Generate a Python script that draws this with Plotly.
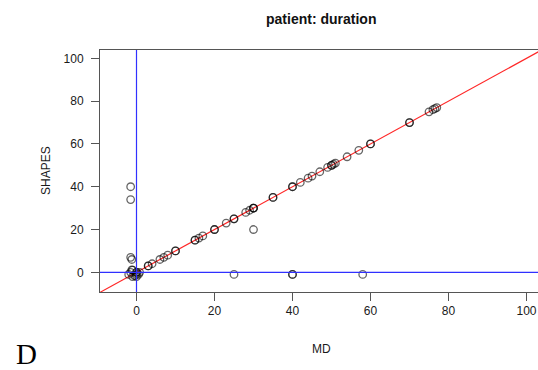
import plotly.graph_objects as go

# Data (MD vs SHAPES, patient duration)
md = [25, 28, 29, 30, 30, 30, 30, 35, 35, 40, 40, 42, 44, 45, 47, 49, 50, 50, 50.5, 51,
      54, 57, 60, 60, 70, 70, 75, 76, 76.5, 77,
      25, 40, 40, 58,
      3, 3, 4, 6, 7, 8, 10, 10, 15, 15, 16, 17, 20, 20, 23, 25,
      -1.5, -1.5, -1.5, -1.2,
      -2, -1.5, -1, -1, 0, 0, 0, 0.5, 0, -0.5, 0.8, -1.2]
shapes = [25, 28, 29, 30, 30, 20, 30, 35, 35, 40, 40, 42, 44, 45, 47, 49, 50, 50, 50.5, 51,
          54, 57, 60, 60, 70, 70, 75, 76, 76.5, 77,
          -1, -1, -1, -1,
          3, 3, 4, 6, 7, 8, 10, 10, 15, 15, 16, 17, 20, 20, 23, 25,
          40, 34, 7, 6,
          -1, 0, -2, 1, 0, 0, -1, -1, -2, -1.5, 0, 1.1]

identity = [-20, 120]
x_ticks = [0, 20, 40, 60, 80, 100]
y_ticks = [0, 20, 40, 60, 80, 100]

fig = go.Figure()
fig.add_trace(go.Scatter(x=identity, y=identity, mode="lines",
                         line=dict(color="rgba(255,0,0,0.85)", width=1.2),
                         hoverinfo="skip", showlegend=False))
fig.add_trace(go.Scatter(x=md, y=shapes, mode="markers",
                         marker=dict(symbol="circle-open", size=7.5,
                                     color="rgba(0,0,0,0.6)",
                                     line=dict(width=1.3, color="rgba(0,0,0,0.6)")),
                         showlegend=False, cliponaxis=True))

fig.add_shape(type="line", xref="x", yref="paper", x0=0, x1=0, y0=0, y1=1,
              line=dict(color="#3030ff", width=1.2))
fig.add_shape(type="line", xref="paper", yref="y", x0=0, x1=1, y0=0, y1=0,
              line=dict(color="#3030ff", width=1.2))

axis_font = dict(family="Liberation Sans, Arial, sans-serif", size=12, color="#1a1a1a")

fig.update_layout(
    width=538, height=370,
    margin=dict(l=100, r=0, t=50, b=78),
    paper_bgcolor="white", plot_bgcolor="white",
    hovermode=False,
    xaxis=dict(range=[-9.36, 102.95], tickvals=x_ticks, ticks="outside", ticklen=8,
               tickcolor="#555", showline=True, linecolor="#555", linewidth=1,
               mirror=True, showgrid=False, zeroline=False, tickfont=axis_font),
    yaxis=dict(range=[-9.2, 103.9], tickvals=y_ticks, ticks="outside", ticklen=8,
               tickcolor="#555", showline=True, linecolor="#555", linewidth=1,
               mirror=False, showgrid=False, zeroline=False, tickfont=axis_font,
               ticklabelstandoff=5),
    annotations=[
        dict(text="<b>patient: duration</b>", xref="paper", yref="paper",
             x=0.5055, y=1, yshift=31, showarrow=False, xanchor="center", yanchor="middle",
             font=dict(family="Liberation Sans, Arial, sans-serif", size=14, color="#111")),
        dict(text="MD", xref="paper", yref="paper", x=0.5055, y=0, yshift=-57,
             showarrow=False, xanchor="center", yanchor="middle", font=axis_font),
        dict(text="SHAPES", xref="paper", yref="paper", x=0, xshift=-54, y=0.5,
             textangle=-90, showarrow=False, xanchor="center", yanchor="middle", font=axis_font),
        dict(text="D", xref="paper", yref="paper", x=0, xshift=-86, y=0, yshift=-62,
             showarrow=False, xanchor="left", yanchor="middle",
             font=dict(family="Liberation Serif, Times New Roman, serif", size=29, color="#000")),
    ],
)

fig.write_html("out.html", config={"displayModeBar": False},
               post_script="document.body.style.margin='0';document.body.style.overflow='hidden';")
